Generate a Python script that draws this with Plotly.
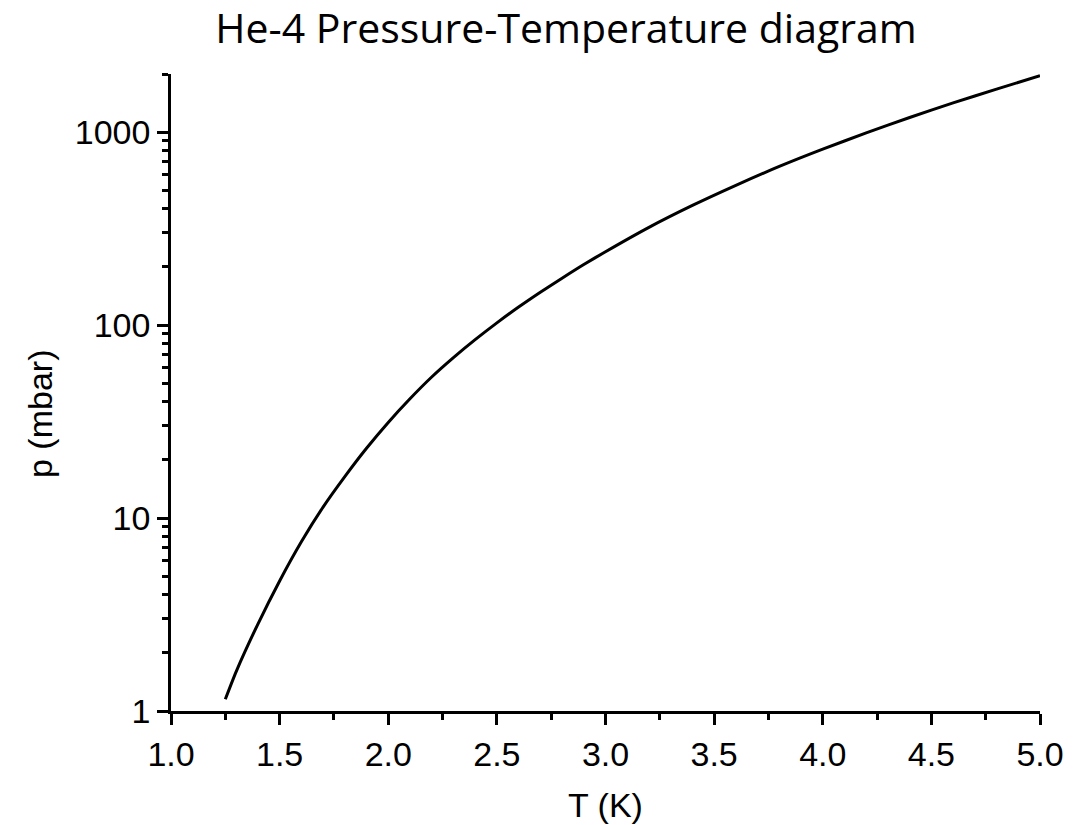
import plotly.graph_objects as go

# He-4 saturated vapour pressure
temperature_K = [1.25, 1.3, 1.4, 1.5, 1.6, 1.7, 1.8, 1.9, 2.0, 2.1, 2.2, 2.3, 2.4,
                 2.5, 2.6, 2.7, 2.8, 2.9, 3.0, 3.2, 3.4, 3.6, 3.8, 4.0, 4.2,
                 4.4, 4.6, 4.8, 5.0]
pressure_mbar = [1.15, 1.60, 2.82, 4.72, 7.53, 11.4, 16.4, 23.0, 31.3, 41.5, 53.8,
                 67.8, 84.0, 102.7, 124, 148, 175, 206, 240, 321, 417, 530, 664,
                 816, 990, 1190, 1417, 1670, 1960]

x_major = [1.0, 1.5, 2.0, 2.5, 3.0, 3.5, 4.0, 4.5, 5.0]
x_major_text = ["1.0", "1.5", "2.0", "2.5", "3.0", "3.5", "4.0", "4.5", "5.0"]
x_minor = [1.25, 1.75, 2.25, 2.75, 3.25, 3.75, 4.25, 4.75]
y_major = [1, 10, 100, 1000]
y_major_text = ["1", "10", "100", "1000"]
y_minor = [2, 3, 4, 5, 6, 7, 8, 9, 20, 30, 40, 50, 60, 70, 80, 90,
           200, 300, 400, 500, 600, 700, 800, 900, 2000]

tick_font = dict(family="Liberation Sans, Arial, sans-serif", size=34, color="black")

fig = go.Figure()
fig.add_trace(go.Scatter(
    x=temperature_K, y=pressure_mbar, mode="lines",
    line=dict(color="black", width=3, shape="spline", smoothing=0.6),
    showlegend=False, hoverinfo="x+y",
))

fig.update_layout(
    width=1089, height=825,
    margin=dict(l=171, r=49, t=74, b=114),
    paper_bgcolor="white", plot_bgcolor="white",
    title=dict(
        text="He-4 Pressure-Temperature diagram",
        font=dict(family="Open Sans, sans-serif", size=41, color="black"),
        x=566 / 1089, xanchor="center", xref="container",
        y=1 - 29 / 825, yanchor="middle", yref="container",
    ),
    xaxis=dict(
        range=[1.0, 5.0], tickvals=x_major, ticktext=x_major_text,
        ticks="outside", ticklen=11, tickwidth=2.5, tickcolor="black",
        showline=True, linecolor="black", linewidth=2.5, mirror=False,
        showgrid=False, zeroline=False, tickfont=tick_font,
        minor=dict(tickvals=x_minor, ticks="outside", ticklen=6,
                   tickwidth=2.5, tickcolor="black", showgrid=False),
    ),
    yaxis=dict(
        type="log", range=[0, 3.30103], tickvals=y_major, ticktext=y_major_text,
        ticks="outside", ticklen=11, tickwidth=2.5, tickcolor="black",
        showline=True, linecolor="black", linewidth=2.5, mirror=False,
        showgrid=False, zeroline=False, tickfont=tick_font,
        minor=dict(tickvals=y_minor, ticks="outside", ticklen=6,
                   tickwidth=2.5, tickcolor="black", showgrid=False),
    ),
    annotations=[
        dict(text="T (K)", x=0.5, y=-0.1476, xref="paper", yref="paper",
             xanchor="center", yanchor="middle", showarrow=False,
             font=tick_font),
        dict(text="p (mbar)", x=-0.1507, y=0.4663, xref="paper", yref="paper",
             xanchor="center", yanchor="middle", showarrow=False,
             textangle=-90, font=tick_font),
    ],
)

fig.write_html("out.html")
